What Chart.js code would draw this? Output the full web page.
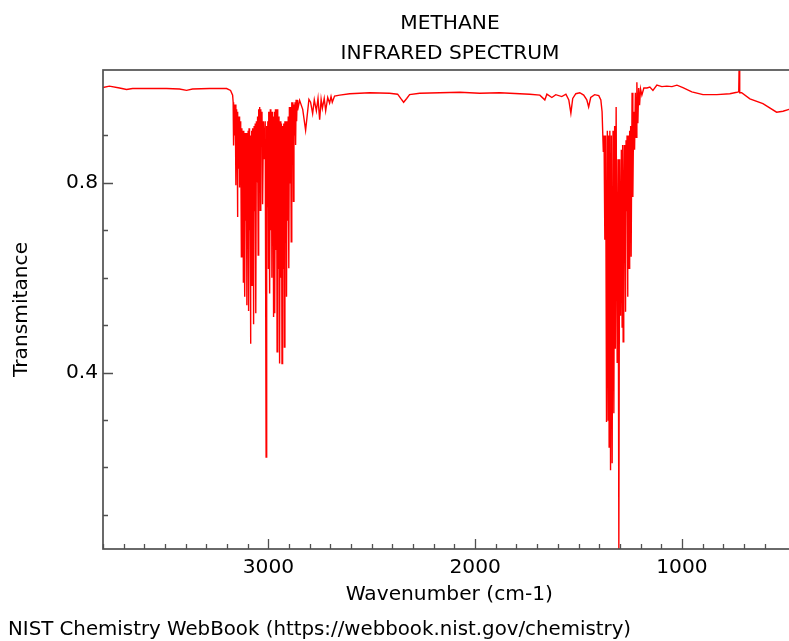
<!DOCTYPE html>
<html>
<head>
<meta charset="utf-8">
<script src="https://cdn.jsdelivr.net/npm/chart.js@4.4.0/dist/chart.umd.min.js"></script>
<style>
html,body{margin:0;padding:0;background:#fff;overflow:hidden;width:789px;height:641px;}
#wrap{position:absolute;left:0;top:0;width:800px;height:641px;}
.t{position:absolute;font-family:"DejaVu Sans";font-size:20.2px;line-height:23px;color:#000;white-space:nowrap;}
.c{left:0;width:900px;text-align:center;}
.f{font-size:19.8px;}
</style>
</head>
<body>
<div id="wrap"><canvas id="c" width="800" height="641"></canvas></div>
<div class="t c" style="top:11px">METHANE</div>
<div class="t c" style="top:41px">INFRARED SPECTRUM</div>
<div class="t f" style="left:8px;top:617px">NIST Chemistry WebBook (https://webbook.nist.gov/chemistry)</div>
<script>
// Wavenumber (cm-1), left (high) to right (low)
const wavenumber = [
 3800,3769,3720,3686,3657,3575,3493,3430,3396,3367,3285,3202,3183,3173,
 3170.5,3168.4,3165.6,3162.9,3160.1,3157.3,3155.5,3153.7,3151.8,3150.0,3147.4,3144.7,3142.0,3139.4,
 3137.2,3135.1,3132.9,3130.7,3128.3,3125.9,3123.4,3121,3119.2,3117.4,3115.5,3113.7,3111.3,3108.9,3106.5,3104.1,
 3102.0,3100.0,3097.9,3095.8,3093.5,3091.2,3088.9,3086.6,3084.7,3082.8,3080.8,3078.9,3077.1,3075.3,3073.4,3071.6,
 3069.0,3066.3,3063.7,3061,3058.1,3055.2,3052.3,3049.4,3047.0,3044.6,3042.1,3039.7,3036.8,3033.9,3031.0,3028.1,
 3023.9,3019.6,3015.4,3011.1,3008.3,3005.6,3002.8,3000,2998.3,2996.6,2994.9,2993.2,2990.7,2988.2,2985.6,2983.1,
 2981.3,2979.5,2977.6,2975.8,2974.0,2972.2,2970.3,2968.5,2965.9,2963.2,2960.6,2957.9,2954.9,2951.9,2948.8,2945.8,
 2942.9,2940.0,2937.1,2934.2,2931.3,2928.4,2925.5,2922.6,2920.1,2917.5,2915.0,2912.4,2909.6,2906.9,2904.1,2901.3,
 2898.4,2895.5,2892.5,2889.6,2886.9,2884.3,2881.7,2879,2876.4,2873.7,2871.1,2868.4,2866.0,2863.6,2861.1,2858.7,
 2849,2834,2820,2804,2796,2786,2778,2768,2760,2752,2745,2739,2730,2723,2713,2704,2697,2691,2680,2655,
 2607,2510,2414,2375,2360,2346,2331,2317,2268,2171,2074,1978,1881,1784,1736,1687,1663,1653,1629,1610,
 1581,1561,1547,1537,1528,1513,1494,1475,1460,1451,1441,1422,1402,1392,1386,
 1380,1376.5,1372.7,1368.8,1364.5,1360.6,1356.7,1354.3,1351.9,1348.5,1345.1,1341.2,1337.3,1333,1329.1,1325.2,
 1321.9,1318,1313.1,1308.8,1304.9,1301,1296.7,1292.8,1289,1286.5,1284.1,1281.2,1278.4,1275.5,1272.5,1270.1,1267.7,
 1265.2,1262.8,1260.8,1258.8,1257.0,1255.1,1252.6,1250.2,1247.8,1245.4,1241,1237.2,1233.3,1228.9,1225,1221.2,
 1217.8,1213,1209,1204.7,1200,1193.6,1184,
 1169,1155,1140,1121,1097,1073,1048,1024,995,952,898,831,768,734,725,722.7,720.3,711,671,608,542,511,482,450
];
// Transmittance at each wavenumber above
const transmittance = [
 1.001,1.004,1.0,0.997,0.999,0.999,0.999,0.998,0.995,0.998,0.999,0.999,0.995,0.985,
 0.97,0.879,0.965,0.9,0.965,0.795,0.955,0.86,0.95,0.728,0.945,0.83,0.94,0.79,
 0.93,0.8,0.925,0.644,0.915,0.76,0.91,0.591,0.91,0.74,0.905,0.56,0.905,0.72,0.9,0.542,
 0.905,0.74,0.91,0.53,0.915,0.7,0.9,0.461,0.9,0.75,0.91,0.584,0.915,0.78,0.915,0.502,
 0.92,0.74,0.925,0.525,0.93,0.8,0.94,0.648,0.955,0.86,0.96,0.742,0.955,0.88,0.95,0.755,
 0.93,0.85,0.93,0.222,0.92,0.75,0.93,0.62,0.95,0.8,0.95,0.567,0.955,0.7,0.95,0.6,
 0.95,0.72,0.94,0.517,0.94,0.7,0.95,0.525,0.955,0.66,0.955,0.444,0.955,0.62,0.94,0.419,
 0.93,0.6,0.925,0.419,0.92,0.62,0.925,0.454,0.93,0.68,0.93,0.56,0.93,0.72,0.94,0.62,
 0.96,0.8,0.96,0.676,0.97,0.84,0.97,0.761,0.965,0.9,0.97,0.88,0.975,0.93,0.975,0.953,
 0.974,0.955,0.911,0.976,0.97,0.946,0.975,0.952,0.978,0.933,0.976,0.957,0.978,0.952,0.98,0.968,0.982,0.97,0.983,0.985,
 0.988,0.99,0.989,0.987,0.978,0.97,0.978,0.986,0.989,0.99,0.991,0.989,0.99,0.988,0.987,0.985,0.975,0.987,0.98,0.986,
 0.982,0.987,0.975,0.947,0.978,0.988,0.99,0.985,0.975,0.96,0.98,0.986,0.984,0.975,0.95,
 0.865,0.9,0.68,0.9,0.296,0.91,0.30,0.9,0.243,0.91,0.194,0.9,0.209,0.91,0.314,0.92,
 0.45,0.96,0.42,0.85,0.028,0.85,0.52,0.87,0.496,0.88,0.465,0.72,0.88,0.7,0.528,0.89,0.74,
 0.9,0.56,0.8,0.9,0.76,0.62,0.91,0.78,0.92,0.644,0.99,0.77,0.95,0.87,0.99,0.896,
 1.012,0.926,1.0,0.964,0.998,0.985,1.0,
 1.0,1.002,0.995,1.006,1.003,1.004,1.003,1.006,1.001,0.992,0.986,0.986,0.988,0.991,0.992,1.06,0.99,0.99,0.977,0.967,0.949,0.951,0.955,0.957
];
const xLabels = [3000, 2000, 1000];
const yLabels = [0.4, 0.8];
const xRange = [450, 3800];
const yRange = [0.028, 1.038];

const FONT = {family: 'DejaVu Sans', size: 20.2};
const near = (v, s) => Math.abs(v / s - Math.round(v / s)) < 1e-6;

const framePlugin = {
  id: 'frame',
  afterDatasetsDraw(chart) {
    const {ctx, chartArea: a, scales: {x, y}} = chart;
    ctx.save();
    ctx.strokeStyle = '#505050';
    ctx.lineWidth = 1.7;
    ctx.strokeRect(a.left, a.top, a.right - a.left, a.bottom - a.top);
    ctx.beginPath();
    ctx.lineWidth = 1.3;
    x.ticks.forEach(t => {
      if (!near(t.value, 100)) return;
      const major = near(t.value, 1000);
      const px = Math.round(x.getPixelForValue(t.value)) + 0.5;
      ctx.moveTo(px, a.bottom);
      ctx.lineTo(px, a.bottom - (major ? 10 : 5));
    });
    y.ticks.forEach(t => {
      if (!near(t.value, 0.1)) return;
      const major = yLabels.some(v => Math.abs(v - t.value) < 1e-6);
      const py = Math.round(y.getPixelForValue(t.value)) + 0.5;
      ctx.moveTo(a.left, py);
      ctx.lineTo(a.left + (major ? 10 : 5), py);
    });
    ctx.stroke();
    ctx.restore();
  }
};

new Chart(document.getElementById('c'), {
  type: 'line',
  data: {
    datasets: [{
      data: wavenumber.map((w, i) => ({x: w, y: transmittance[i]})),
      borderColor: '#ff0000',
      borderWidth: 1.4,
      pointRadius: 0,
      tension: 0,
      fill: false
    }]
  },
  options: {
    responsive: false,
    animation: false,
    events: [],
    layout: {padding: {top: 70, left: 0, right: 4.4, bottom: 0}},
    plugins: {legend: {display: false}, title: {display: false}, tooltip: {enabled: false}},
    scales: {
      x: {
        type: 'linear', reverse: true, min: xRange[0], max: xRange[1],
        grid: {display: false}, border: {display: false},
        ticks: {
          stepSize: 100, autoSkip: false, maxRotation: 0, padding: -1, color: '#000', font: FONT,
          callback: v => xLabels.find(l => Math.abs(l - v) < 1e-6) !== undefined ? String(v) : ''
        },
        title: {display: true, text: 'Wavenumber (cm-1)', color: '#000', font: FONT, padding: {top: 0, bottom: 34}},
        afterFit: s => { s.height = 92; }
      },
      y: {
        type: 'linear', min: yRange[0], max: yRange[1],
        grid: {display: false}, border: {display: false},
        ticks: {
          stepSize: 0.1, autoSkip: false, padding: -3, color: '#000', font: FONT,
          callback: v => { const l = yLabels.find(k => Math.abs(k - v) < 1e-6); return l !== undefined ? l.toFixed(1) : ''; }
        },
        title: {display: true, text: 'Transmitance', color: '#000', font: FONT, padding: {top: 10, bottom: 0}},
        afterFit: s => { s.width = 103; }
      }
    }
  },
  plugins: [framePlugin]
});
</script>
</body>
</html>
